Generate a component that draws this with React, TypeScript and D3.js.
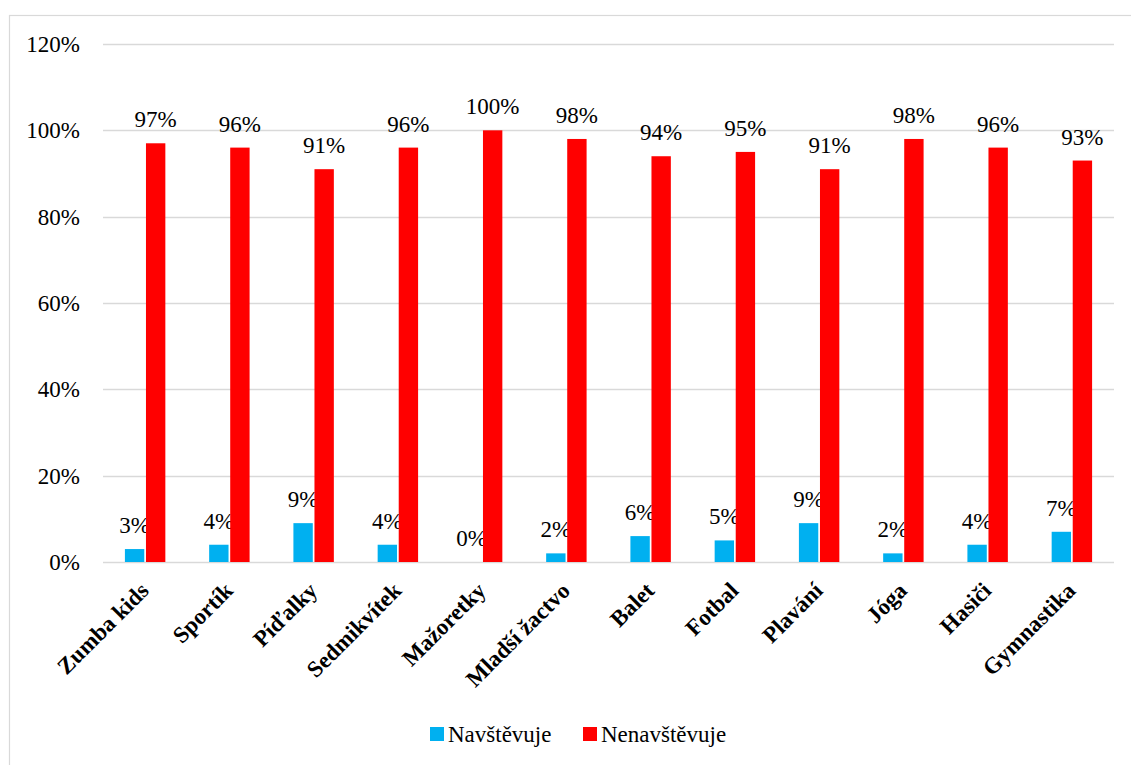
import { useEffect, useRef } from 'react'
import * as d3 from 'd3'

const CATEGORIES = ['Zumba kids', 'Sportík', 'Píďalky', 'Sedmikvítek', 'Mažoretky', 'Mladší žactvo', 'Balet', 'Fotbal', 'Plavání', 'Jóga', 'Hasiči', 'Gymnastika']
const NAVSTEVUJE = [3, 4, 9, 4, 0, 2, 6, 5, 9, 2, 4, 7]
const NENAVSTEVUJE = [97, 96, 91, 96, 100, 98, 94, 95, 91, 98, 96, 93]
const SERIES = [
  { name: 'Navštěvuje', values: NAVSTEVUJE, color: '#00B0F0' },
  { name: 'Nenavštěvuje', values: NENAVSTEVUJE, color: '#FF0000' },
]
const Y_TICKS = [0, 20, 40, 60, 80, 100, 120]

const FONT = 'Liberation Serif'
const FS = 23

export default function App() {
  const svgRef = useRef<SVGSVGElement>(null)

  useEffect(() => {
    if (!svgRef.current) return
    const W = 1131, H = 765
    const svg = d3.select(svgRef.current)
    svg.selectAll('*').remove()

    // outer chart frame (right and bottom edges run off the page)
    svg.append('rect').attr('x', 9.5).attr('y', 15.5).attr('width', 1130).attr('height', 760)
      .attr('fill', '#fff').attr('stroke', '#d9d9d9').attr('stroke-width', 1.2)

    const left = 103, right = 1114, top = 44, bottom = 562
    const x0 = d3.scaleBand<string>().domain(CATEGORIES).range([left, right]).paddingInner(0.48).paddingOuter(0.24)
    const x1 = d3.scaleBand<string>().domain(SERIES.map(s => s.name)).range([0, x0.bandwidth()]).padding(0.08)
    const y = d3.scaleLinear().domain([0, 120]).range([bottom, top])

    // gridlines
    svg.append('g').selectAll('line').data(Y_TICKS).join('line')
      .attr('x1', left).attr('x2', right)
      .attr('y1', d => Math.round(y(d)) + 0.5).attr('y2', d => Math.round(y(d)) + 0.5)
      .attr('stroke', '#d9d9d9').attr('stroke-width', 1.3)

    // y tick labels
    svg.append('g').selectAll('text').data(Y_TICKS).join('text')
      .attr('x', 80).attr('y', d => y(d) + 8)
      .attr('text-anchor', 'end').attr('font-family', FONT).attr('font-size', FS).attr('fill', '#000')
      .text(d => `${d}%`)

    // bars + value labels
    SERIES.forEach(s => {
      const g = svg.append('g')
      g.selectAll('rect').data(s.values).join('rect')
        .attr('x', (_, i) => x0(CATEGORIES[i])! + x1(s.name)!)
        .attr('y', d => y(d))
        .attr('width', x1.bandwidth())
        .attr('height', d => y(0) - y(d))
        .attr('fill', s.color)
      g.selectAll('text').data(s.values).join('text')
        .attr('x', (_, i) => x0(CATEGORIES[i])! + x1(s.name)! + x1.bandwidth() / 2)
        .attr('y', d => y(d) - 16)
        .attr('text-anchor', 'middle').attr('font-family', FONT).attr('font-size', FS).attr('fill', '#000')
        .text(d => `${d}%`)
    })

    // category labels
    svg.append('g').selectAll('text').data(CATEGORIES).join('text')
      .attr('transform', d => `translate(${x0(d)! + x0.bandwidth() / 2 + 5},${bottom + 30}) rotate(-45)`)
      .attr('text-anchor', 'end').attr('font-family', FONT).attr('font-size', FS).attr('font-weight', 'bold').attr('fill', '#000')
      .text(d => d)

    // legend
    const legendItems = [{ ...SERIES[0], x: 430 }, { ...SERIES[1], x: 583 }]
    const lg = svg.append('g')
    legendItems.forEach(it => {
      lg.append('rect').attr('x', it.x).attr('y', 727).attr('width', 14).attr('height', 14).attr('fill', it.color)
      lg.append('text').attr('x', it.x + 18).attr('y', 742)
        .attr('font-family', FONT).attr('font-size', FS).attr('fill', '#000').text(it.name)
    })

    svg.attr('viewBox', `0 0 ${W} ${H}`)
  }, [])

  return (
    <svg ref={svgRef} width={1131} height={765}
      style={{ position: 'absolute', left: 0, top: 0, background: '#fff' }} />
  )
}
